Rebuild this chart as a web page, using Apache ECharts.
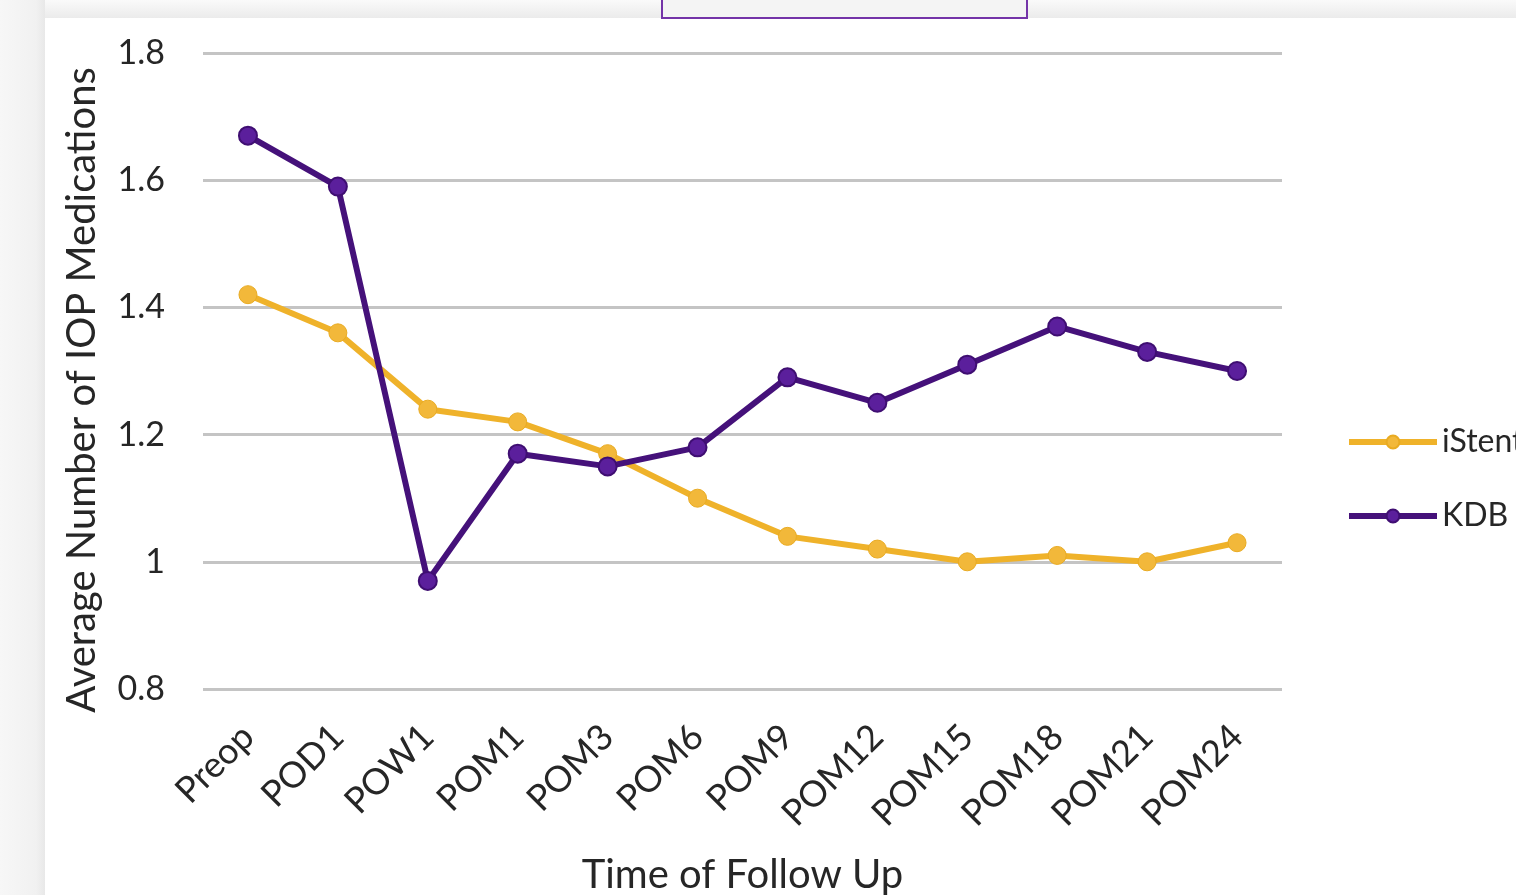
<!DOCTYPE html>
<html>
<head>
<meta charset="utf-8">
<title>Average Number of IOP Medications</title>
<script src="https://cdn.jsdelivr.net/npm/echarts@6/dist/echarts.min.js"></script>
<style>
  html, body { margin: 0; padding: 0; background: #ffffff; }
  #chart { width: 1516px; height: 895px; }
</style>
</head>
<body>
<div id="chart"></div>
<script>
// Follow-up time points
const categories = ['Preop', 'POD1', 'POW1', 'POM1', 'POM3', 'POM6', 'POM9', 'POM12', 'POM15', 'POM18', 'POM21', 'POM24'];

// Average number of IOP medications per group
const iStentValues = [1.42, 1.36, 1.24, 1.22, 1.17, 1.10, 1.04, 1.02, 1.00, 1.01, 1.00, 1.03];
const kdbValues    = [1.67, 1.59, 0.97, 1.17, 1.15, 1.18, 1.29, 1.25, 1.31, 1.37, 1.33, 1.30];

// Y axis range
const yMin = 0.8;
const yMax = 1.8;
const yStep = 0.2;

const textColor = '#262626';
const fontFamily = 'Lato, "Open Sans", sans-serif';

const orange = { line: '#efb22a', fill: '#f2b83a', border: '#e9ab22' };
const purple = { line: '#45117a', fill: '#5b1f9c', border: '#3f0e72' };

const chart = echarts.init(document.getElementById('chart'), null, { renderer: 'canvas' });

chart.setOption({
  backgroundColor: '#ffffff',
  animation: false,
  graphic: [
    // light grey frame strips around the white panel
    {
      type: 'rect', z: -10, silent: true,
      shape: { x: 0, y: 0, width: 1516, height: 18 },
      style: {
        fill: new echarts.graphic.LinearGradient(0, 0, 0, 1, [
          { offset: 0, color: '#fafafa' },
          { offset: 1, color: '#ebebeb' }
        ])
      }
    },
    {
      type: 'rect', z: -10, silent: true,
      shape: { x: 0, y: 0, width: 45, height: 895 },
      style: {
        fill: new echarts.graphic.LinearGradient(0, 0, 1, 0, [
          { offset: 0, color: '#f7f7f7' },
          { offset: 0.8, color: '#f1f1f1' },
          { offset: 1, color: '#e8e8e8' }
        ])
      }
    },
    {
      type: 'rect', z: 10, silent: true,
      shape: { x: 662, y: -4, width: 365, height: 22 },
      style: { fill: '#f4f4f4', stroke: '#7434a8', lineWidth: 2 }
    }
  ],
  grid: {
    left: 203,
    right: 234,
    top: 53,
    bottom: 206,
    containLabel: false,
    outerBoundsMode: 'none'
  },
  legend: {
    orient: 'vertical',
    left: 1341,
    top: 420,
    itemWidth: 88,
    itemHeight: 16,
    itemGap: 40,
    textStyle: {
      color: textColor,
      fontFamily: fontFamily,
      fontSize: 32,
      lineHeight: 34
    },
    data: [
      { name: 'iStent', lineStyle: { width: 6, color: orange.line }, itemStyle: { color: orange.fill } },
      { name: 'KDB', lineStyle: { width: 6, color: purple.line }, itemStyle: { color: purple.fill } }
    ]
  },
  xAxis: {
    type: 'category',
    data: categories,
    boundaryGap: true,
    axisLine: { show: false },
    axisTick: { show: false },
    axisLabel: {
      rotate: 45,
      margin: 42,
      color: textColor,
      fontFamily: fontFamily,
      fontSize: 36,
      interval: 0
    },
    name: 'Time of Follow Up',
    nameLocation: 'middle',
    nameGap: 166,
    nameTextStyle: {
      color: textColor,
      fontFamily: fontFamily,
      fontSize: 40
    }
  },
  yAxis: {
    type: 'value',
    min: yMin,
    max: yMax,
    interval: yStep,
    axisLine: { show: false },
    axisTick: { show: false },
    splitLine: { lineStyle: { color: '#c4c4c4', width: 3 } },
    axisLabel: {
      margin: 38,
      color: textColor,
      fontFamily: fontFamily,
      fontSize: 34
    },
    name: 'Average Number of IOP Medications',
    nameLocation: 'middle',
    nameGap: 101,
    nameRotate: 90,
    nameTextStyle: {
      color: textColor,
      fontFamily: fontFamily,
      fontSize: 40,
      padding: [0, 38, 0, 0]
    }
  },
  series: [
    {
      name: 'iStent',
      type: 'line',
      data: iStentValues,
      symbol: 'circle',
      symbolSize: 18,
      lineStyle: { color: orange.line, width: 6 },
      itemStyle: { color: orange.fill, borderColor: orange.border, borderWidth: 1 },
      z: 3
    },
    {
      name: 'KDB',
      type: 'line',
      data: kdbValues,
      symbol: 'circle',
      symbolSize: 18,
      lineStyle: { color: purple.line, width: 6 },
      itemStyle: { color: purple.fill, borderColor: purple.border, borderWidth: 2 },
      z: 4
    }
  ]
});
</script>
</body>
</html>
